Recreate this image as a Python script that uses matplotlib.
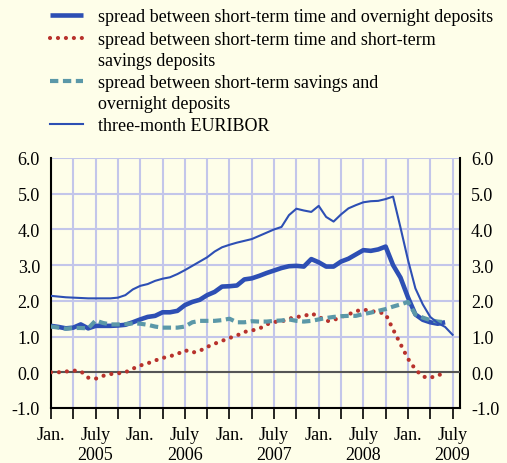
import matplotlib
matplotlib.use("Agg")
import matplotlib.pyplot as plt
from matplotlib.lines import Line2D
from matplotlib.transforms import blended_transform_factory

plt.rcParams['font.family'] = ['Liberation Serif', 'DejaVu Serif']

# months counted from Jan. 2005 = 0
time_overnight = [1.30, 1.27, 1.23, 1.25, 1.34, 1.23, 1.30, 1.30, 1.30, 1.31,
                  1.33, 1.40, 1.48, 1.55, 1.58, 1.68, 1.68, 1.72, 1.88, 1.97,
                  2.03, 2.16, 2.25, 2.40, 2.41, 2.43, 2.60, 2.63, 2.70, 2.78,
                  2.85, 2.92, 2.97, 2.98, 2.96, 3.17, 3.08, 2.96, 2.96, 3.10,
                  3.18, 3.30, 3.42, 3.40, 3.44, 3.52, 3.00, 2.65, 2.10, 1.62,
                  1.47, 1.40, 1.36, 1.40]
time_savings = [0.00, 0.00, 0.02, 0.05, 0.03, -0.15, -0.18, -0.10, -0.05, -0.03,
                0.00, 0.10, 0.19, 0.25, 0.33, 0.40, 0.45, 0.51, 0.62, 0.55,
                0.60, 0.71, 0.80, 0.88, 0.96, 1.03, 1.13, 1.17, 1.22, 1.34,
                1.41, 1.42, 1.50, 1.55, 1.57, 1.65, 1.56, 1.43, 1.46, 1.55,
                1.62, 1.71, 1.76, 1.71, 1.69, 1.63, 1.20, 0.79, 0.38, 0.08,
                -0.12, -0.16, -0.07, -0.06]
savings_overnight = [1.28, 1.25, 1.22, 1.24, 1.24, 1.23, 1.45, 1.38, 1.34, 1.34,
                     1.35, 1.37, 1.36, 1.33, 1.28, 1.25, 1.25, 1.25, 1.28, 1.40,
                     1.44, 1.44, 1.44, 1.46, 1.50, 1.40, 1.40, 1.43, 1.42, 1.42,
                     1.44, 1.45, 1.48, 1.44, 1.42, 1.44, 1.48, 1.52, 1.55, 1.57,
                     1.58, 1.58, 1.63, 1.67, 1.72, 1.77, 1.84, 1.90, 1.97, 1.62,
                     1.53, 1.46, 1.42, 1.40]
euribor = [2.14, 2.12, 2.10, 2.09, 2.08, 2.07, 2.07, 2.07, 2.07, 2.09,
           2.16, 2.32, 2.42, 2.47, 2.56, 2.62, 2.66, 2.75, 2.86, 2.98,
           3.10, 3.22, 3.38, 3.50, 3.57, 3.63, 3.68, 3.73, 3.82, 3.91,
           4.00, 4.07, 4.40, 4.58, 4.53, 4.49, 4.66, 4.35, 4.22, 4.42,
           4.59, 4.68, 4.76, 4.79, 4.80, 4.85, 4.92, 4.05, 3.15, 2.35,
           1.90, 1.55, 1.38, 1.27, 1.05]

labels = ["spread between short-term time and overnight deposits",
          "spread between short-term time and short-term\nsavings deposits",
          "spread between short-term savings and\novernight deposits",
          "three-month EURIBOR"]
month_labels = ["Jan.", "", "July", ""]
years = ["2005", "2006", "2007", "2008", "2009"]

bg = '#fefee9'
blue = '#2d4fb4'
red = '#b8322c'
teal = '#5b98a8'
grid = '#c3c6ea'

fig = plt.figure(figsize=(5.07, 4.64), dpi=100, facecolor=bg)
ax = fig.add_axes([51/507, 1-409/464, (460-51)/507, (409-159)/464])
ax.set_facecolor(bg)

x1 = list(range(len(time_overnight)))
x4 = list(range(len(euribor)))

ax.plot(x1, time_overnight, color=blue, lw=3.3, solid_capstyle='butt', zorder=4)
ax.plot(x1, time_savings, color=red, lw=3.0, dashes=(0.01, 1.9),
        dash_capstyle='round', zorder=5)
ax.plot(x1, savings_overnight, color=teal, lw=3.0, dashes=(2.0, 1.1), zorder=5)
ax.plot(x4, euribor, color=blue, lw=1.5, zorder=6)

ax.axhline(0, color='#555555', lw=1.5, zorder=3)

ax.set_xlim(0, 55)
ax.set_ylim(-1, 6)
ax.set_yticks(range(-1, 7))
ax.set_yticklabels([f"{v:.1f}" for v in range(-1, 7)])
ax.tick_params(axis='y', length=0, labelsize=13, pad=8,
               right=True, labelright=True)

xt = list(range(0, 55, 3))
ax.set_xticks(xt)
ax.set_xticklabels([month_labels[(t // 3) % 4] for t in xt])
ax.tick_params(axis='x', direction='out', length=8, width=1.2,
               labelsize=13, pad=5)
ax.grid(True, color=grid, lw=1.5, zorder=1)
ax.set_axisbelow(True)

for s in ['left', 'right', 'bottom']:
    ax.spines[s].set_color('black')
    ax.spines[s].set_linewidth(1.5)
ax.spines['top'].set_visible(False)

tr = blended_transform_factory(ax.transData, ax.transAxes)
for i, y in enumerate(years):
    ax.text(6 + 12 * i, -47/250, y, transform=tr, ha='center', va='center',
            fontsize=13)

# legend drawn by hand
rows = [(15.5, dict(color=blue, lw=3.3, solid_capstyle='butt')),
        (39, dict(color=red, lw=3.0, dashes=(0.01, 1.9), dash_capstyle='round')),
        (82, dict(color=teal, lw=3.0, dashes=(2.0, 1.1))),
        (125, dict(color=blue, lw=1.5))]
for (ypx, style), lab in zip(rows, labels):
    yf = 1 - ypx/464
    fig.add_artist(Line2D([50/507, 83/507], [yf, yf], **style))
    fig.text(98/507, 1 - (ypx - 7)/464, lab, fontsize=13, va='top',
             ha='left', linespacing=1.33)

fig.savefig('out.png', dpi=100, facecolor=bg)
